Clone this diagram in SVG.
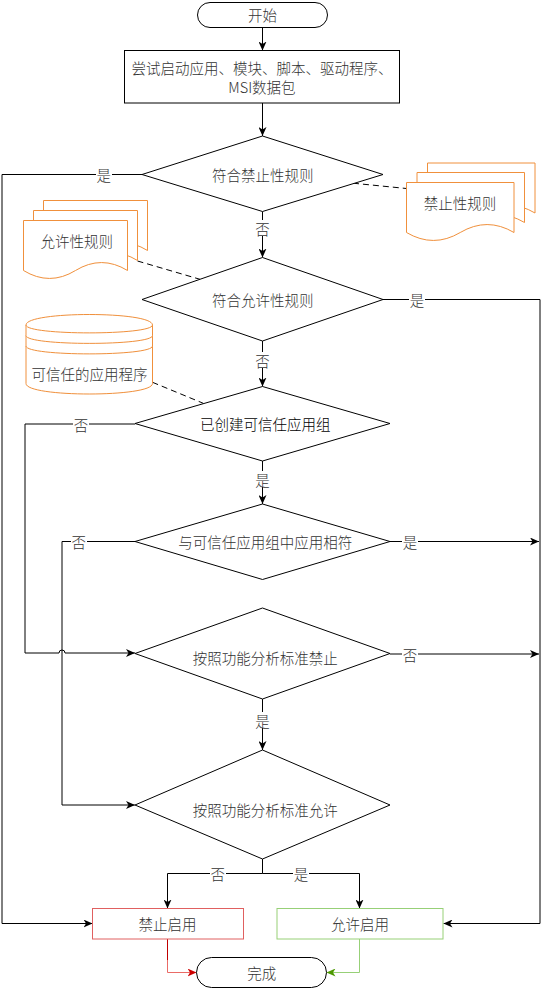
<svg xmlns="http://www.w3.org/2000/svg" width="542" height="989" viewBox="0 0 542 989">
<style>
text{font-family:"Noto Sans CJK SC","Noto Sans",sans-serif;font-size:14.5px;font-weight:300;fill:#333;text-anchor:middle;dominant-baseline:central}
.sh{fill:#fff;stroke:#000;stroke-width:1}
.doc{fill:#fff;stroke:#f0903c;stroke-width:1}
.ln{fill:none;stroke:#000;stroke-width:1}
.dash{fill:none;stroke:#000;stroke-width:1;stroke-dasharray:6 4}
.bg{fill:#fff}
</style>
<defs>
<marker id="ar" viewBox="0 0 9 8" refX="9" refY="4" markerWidth="9" markerHeight="8" markerUnits="userSpaceOnUse" orient="auto"><path d="M0,0 L9,4 L0,8 L2.5,4 Z" fill="#000"/></marker>
<marker id="arR" viewBox="0 0 9 8" refX="9" refY="4" markerWidth="9" markerHeight="8" markerUnits="userSpaceOnUse" orient="auto"><path d="M0,0 L9,4 L0,8 L2.5,4 Z" fill="#cc0000"/></marker>
<marker id="arG" viewBox="0 0 9 8" refX="9" refY="4" markerWidth="9" markerHeight="8" markerUnits="userSpaceOnUse" orient="auto"><path d="M0,0 L9,4 L0,8 L2.5,4 Z" fill="#4d9900"/></marker>
</defs>

<g id="connectors">
<path class="ln" d="M262.5,27.5 V50.5" marker-end="url(#ar)"/>
<path class="ln" d="M262.5,103 V136" marker-end="url(#ar)"/>
<path class="ln" d="M262.5,211.5 V257.5" marker-end="url(#ar)"/>
<path class="ln" d="M262.5,341 V386.5" marker-end="url(#ar)"/>
<path class="ln" d="M262.5,461 V504" marker-end="url(#ar)"/>
<path class="ln" d="M262.5,699 V750" marker-end="url(#ar)"/>
<path class="ln" d="M142,174.5 H2 V923.5 H92.5" marker-end="url(#ar)"/>
<path class="ln" d="M383,299.5 H540 V923.5 H443.5" marker-end="url(#ar)"/>
<path class="ln" d="M135,424 H25 V653 H59 A3,3 0 0 1 65,653 H135" marker-end="url(#ar)"/>
<path class="ln" d="M135,541.5 H62 V805 H135" marker-end="url(#ar)"/>
<path class="ln" d="M390,541.5 H539" marker-end="url(#ar)"/>
<path class="ln" d="M390,654 H539" marker-end="url(#ar)"/>
<path class="ln" d="M262.5,859 V873.5"/>
<path class="ln" d="M262.5,873.5 H167.5 V908.5" marker-end="url(#ar)"/>
<path class="ln" d="M262.5,873.5 H359.5 V908.5" marker-end="url(#ar)"/>
<path fill="none" stroke="#c00000" d="M167.5,939 V960"/>
<path fill="none" stroke="#ea6b66" d="M167.5,960 V972.5 H196.5" marker-end="url(#arR)"/>
<path fill="none" stroke="#97d077" d="M359.5,939 V972.5 H326.5" marker-end="url(#arG)"/>
<path class="dash" d="M353,183.2 L406.5,188.5"/>
<path class="dash" d="M137.5,261 L200,279.3"/>
<path class="dash" d="M152.5,382.3 L203.3,403.3"/>
<g id="labels">
<rect class="bg" x="96" y="166" width="16" height="16"/><text x="103.7" y="174">是</text>
<rect class="bg" x="255" y="220" width="16" height="16"/><text x="262.5" y="228.3">否</text>
<rect class="bg" x="409" y="291" width="16" height="16"/><text x="417" y="299.5">是</text>
<rect class="bg" x="255" y="352" width="16" height="16"/><text x="262.5" y="360">否</text>
<rect class="bg" x="73" y="416" width="16" height="16"/><text x="81" y="424">否</text>
<rect class="bg" x="255" y="471" width="16" height="16"/><text x="262.5" y="479.3">是</text>
<rect class="bg" x="71" y="533" width="16" height="16"/><text x="78.8" y="541.5">否</text>
<rect class="bg" x="402" y="533" width="16" height="16"/><text x="410" y="541.5">是</text>
<rect class="bg" x="402" y="646" width="16" height="16"/><text x="410" y="654">否</text>
<rect class="bg" x="255" y="712" width="16" height="16"/><text x="262.5" y="720">是</text>
<rect class="bg" x="210" y="866" width="16" height="16"/><text x="217.7" y="873.5">否</text>
<rect class="bg" x="293" y="866" width="16" height="16"/><text x="301" y="873.5">是</text>
</g>
</g>

<g id="start">
<rect class="sh" x="197.5" y="2.5" width="130" height="25" rx="12.5"/>
<text x="262.5" y="14.5">开始</text>
</g>
<g id="process">
<rect class="sh" x="124.5" y="50.5" width="275" height="52.5"/>
<text x="262" y="67.2">尝试启动应用、模块、脚本、驱动程序、</text>
<text x="262" y="86.3">MSI数据包</text>
</g>
<g id="d1">
<path class="sh" d="M262.5,136 L383,174.5 L262.5,211.5 L142,174.5 Z"/>
<text x="262.7" y="174">符合禁止性规则</text>
</g>
<g id="doc-deny">
<path class="doc" d="M427.5,163 H535 V213 Q508.1,197.1 481.25,213 Q454.4,228.9 427.5,213 Z"/>
<path class="doc" d="M417,172.5 H524.5 V222.5 Q497.6,206.6 470.75,222.5 Q443.9,238.4 417,222.5 Z"/>
<path class="doc" d="M406.5,182.5 H514 V232.5 Q487.1,216.6 460.25,232.5 Q433.4,248.4 406.5,232.5 Z"/>
<text x="460" y="202.7">禁止性规则</text>
</g>
<g id="doc-allow">
<path class="doc" d="M43.5,200.5 H147.5 V250.5 Q121.5,234.6 95.5,250.5 Q69.5,266.4 43.5,250.5 Z"/>
<path class="doc" d="M33.5,210.5 H137.5 V260.5 Q111.5,244.6 85.5,260.5 Q59.5,276.4 33.5,260.5 Z"/>
<path class="doc" d="M23.5,220.5 H127.5 V270.5 Q101.5,254.6 75.5,270.5 Q49.5,286.4 23.5,270.5 Z"/>
<text x="76.7" y="240">允许性规则</text>
</g>
<g id="d2">
<path class="sh" d="M262.5,257.5 L383,299.5 L262.5,341 L142,299.5 Z"/>
<text x="262.7" y="299">符合允许性规则</text>
</g>
<g id="datastore">
<path class="doc" d="M26,325 C26,311 152.5,311 152.5,325 V383.5 C152.5,397.5 26,397.5 26,383.5 Z"/>
<path class="doc" fill="none" d="M26,325 C26,335.5 152.5,335.5 152.5,325 M26,335.5 C26,346 152.5,346 152.5,335.5 M26,346 C26,356.5 152.5,356.5 152.5,346"/>
<text x="89.5" y="373.5">可信任的应用程序</text>
</g>
<g id="d3">
<path class="sh" d="M262.5,386.5 L390,423.5 L262.5,461 L135,423.5 Z"/>
<text x="265.3" y="423.3" style="fill:#000">已创建可信任应用组</text>
</g>
<g id="d4">
<path class="sh" d="M262.5,504 L390,541.5 L262.5,579.5 L135,541.5 Z"/>
<text x="265.3" y="541">与可信任应用组中应用相符</text>
</g>
<g id="d5">
<path class="sh" d="M262.5,608 L390,653.5 L262.5,699 L135,653.5 Z"/>
<text x="265.3" y="657">按照功能分析标准禁止</text>
</g>
<g id="d6">
<path class="sh" d="M262.5,750 L390,805 L262.5,859 L135,805 Z"/>
<text x="265.3" y="809.5">按照功能分析标准允许</text>
</g>
<g id="deny">
<rect x="92.5" y="908.5" width="151" height="30.5" fill="#fff" stroke="#e06060"/>
<text x="167.5" y="923.5">禁止启用</text>
</g>
<g id="allow">
<rect x="277" y="908.5" width="166" height="30.5" fill="#fff" stroke="#97d077"/>
<text x="360" y="923.5">允许启用</text>
</g>
<g id="end">
<rect class="sh" x="196.5" y="957.5" width="130" height="30" rx="15" stroke="#333"/>
<text x="261.7" y="972.5">完成</text>
</g>
</svg>
